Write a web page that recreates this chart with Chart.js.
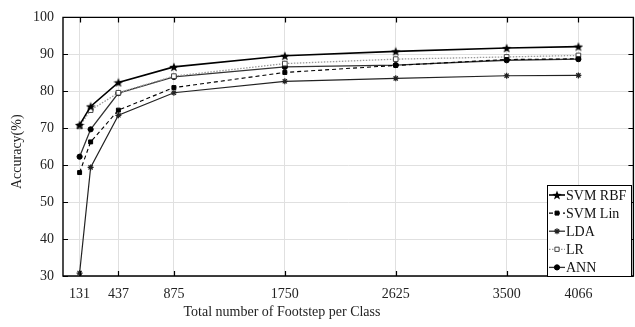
<!DOCTYPE html>
<html>
<head>
<meta charset="utf-8">
<script src="https://cdn.jsdelivr.net/npm/chart.js@4/dist/chart.umd.min.js"></script>
<style>
html,body{margin:0;padding:0;background:#fff;overflow:hidden;width:635px;height:327px;}
#wrap{width:640px;height:327px;}
</style>
</head>
<body>
<div id="wrap"><canvas id="c" width="640" height="327"></canvas></div>
<script>
// ---- data ----
const steps = [131, 218, 437, 875, 1750, 2625, 3500, 4066];
const xTickValues = [131, 437, 875, 1750, 2625, 3500, 4066];
const yTickValues = [30, 40, 50, 60, 70, 80, 90, 100];
const seriesNames = ['SVM RBF', 'SVM Lin', 'LDA', 'LR', 'ANN'];
const svmRbf = [70.9, 75.9, 82.4, 86.6, 89.6, 90.8, 91.7, 92.1];
const svmLin = [58.0, 66.3, 74.9, 81.0, 85.1, 87.0, 88.6, 88.8];
const lda    = [30.8, 59.4, 73.5, 79.6, 82.7, 83.5, 84.2, 84.3];
const lr     = [70.5, 74.9, 79.6, 84.1, 87.5, 88.7, 89.3, 89.7];
const ann    = [62.3, 69.7, 79.5, 83.9, 86.6, 87.1, 88.4, 88.7];
const xTitle = 'Total number of Footstep per Class';
const yTitle = 'Accuracy(%)';

const FONT = '"Liberation Serif", "Times New Roman", serif';

function starImage(size){
  const cv = document.createElement('canvas');
  cv.width = size; cv.height = size;
  const g = cv.getContext('2d');
  const cx = size/2, cy = size/2 + 0.5, R = size/2, r = R*0.42;
  g.beginPath();
  for (let i=0;i<10;i++){
    const a = -Math.PI/2 + i*Math.PI/5;
    const rr = i%2===0 ? R : r;
    const px = cx + rr*Math.cos(a), py = cy + rr*Math.sin(a);
    if(i===0) g.moveTo(px,py); else g.lineTo(px,py);
  }
  g.closePath();
  g.fillStyle = '#000';
  g.fill();
  return cv;
}
const starImg = starImage(10);

function pts(vals){ return steps.map((s,i)=>({x:s, y:vals[i]})); }

const datasets = [
  {label: seriesNames[0], data: pts(svmRbf), borderColor:'#000', borderWidth:1.6,
   pointStyle: starImg, pointRadius:5, legendRadius:5},
  {label: seriesNames[1], data: pts(svmLin), borderColor:'#000', borderWidth:1.1, borderDash:[4,3],
   pointStyle:'rect', pointRadius:2.8, pointBackgroundColor:'#000', pointBorderColor:'#000', pointBorderWidth:1, legendRadius:2.8},
  {label: seriesNames[2], data: pts(lda), borderColor:'#222', borderWidth:1.2,
   pointStyle:'star', pointRadius:3, pointBackgroundColor:'#000', pointBorderColor:'#222', pointBorderWidth:1.2, legendRadius:3},
  {label: seriesNames[3], data: pts(lr), borderColor:'#999', borderWidth:1.3, borderDash:[1.5,1.5],
   pointStyle:'rect', pointRadius:3.3, pointBackgroundColor:'#fff', pointBorderColor:'#444', pointBorderWidth:1, legendRadius:3},
  {label: seriesNames[4], data: pts(ann), borderColor:'#333', borderWidth:1.3,
   pointStyle:'circle', pointRadius:2.6, pointBackgroundColor:'#000', pointBorderColor:'#000', pointBorderWidth:1, legendRadius:2.6}
];
datasets.forEach(d=>{ d.fill=false; d.tension=0; d.pointHoverRadius=d.pointRadius; });

const boxPlugin = {
  id:'boxPlugin',
  afterDatasetsDraw(chart){
    const ctx = chart.ctx, a = chart.chartArea;
    const xs = chart.scales.x, ys = chart.scales.y;
    ctx.save();
    ctx.strokeStyle = '#000';
    ctx.lineWidth = 1.4;
    ctx.beginPath();
    ctx.rect(a.left, a.top, a.right-a.left, a.bottom-a.top);
    ctx.stroke();
    const tl = 5;
    ctx.lineWidth = 1.2;
    ctx.beginPath();
    xTickValues.forEach(v=>{
      const px = Math.round(xs.getPixelForValue(v))+0.5;
      ctx.moveTo(px, a.bottom); ctx.lineTo(px, a.bottom - tl);
      ctx.moveTo(px, a.top); ctx.lineTo(px, a.top + tl);
    });
    yTickValues.forEach(v=>{
      const py = Math.round(ys.getPixelForValue(v))+0.5;
      ctx.moveTo(a.left, py); ctx.lineTo(a.left + tl, py);
      ctx.moveTo(a.right, py); ctx.lineTo(a.right - tl, py);
    });
    ctx.stroke();

    // axis titles
    ctx.fillStyle = '#222';
    ctx.font = '14px ' + FONT;
    ctx.textAlign = 'center';
    ctx.textBaseline = 'middle';
    ctx.fillText(xTitle, 282, 312);
    ctx.save();
    ctx.translate(17, (a.top + a.bottom)/2 + 5);
    ctx.rotate(-Math.PI/2);
    ctx.fillText(yTitle, 0, 0);
    ctx.restore();

    // legend
    const bx = 547, by = 185, bw = 84, bh = a.bottom - by;
    ctx.fillStyle = '#fff';
    ctx.fillRect(bx, by, bw, bh);
    ctx.strokeStyle = '#000';
    ctx.lineWidth = 1;
    ctx.strokeRect(bx+0.5, by+0.5, bw, bh);
    chart.data.datasets.forEach((d,i)=>{
      const y = by + 10 + i*18.1;
      ctx.save();
      ctx.strokeStyle = d.borderColor;
      ctx.lineWidth = d.borderWidth;
      ctx.setLineDash(d.borderDash || []);
      ctx.beginPath();
      ctx.moveTo(bx+2, y); ctx.lineTo(bx+18, y);
      ctx.stroke();
      ctx.setLineDash([]);
      ctx.fillStyle = d.pointBackgroundColor || '#000';
      ctx.strokeStyle = d.pointBorderColor || '#000';
      ctx.lineWidth = d.pointBorderWidth || 1;
      Chart.helpers.drawPoint(ctx, {pointStyle: d.pointStyle, rotation:0, radius: d.legendRadius, borderWidth: d.pointBorderWidth || 1}, bx+10, y);
      ctx.restore();
      ctx.fillStyle = '#111';
      ctx.font = '14px ' + FONT;
      ctx.textAlign = 'left';
      ctx.textBaseline = 'middle';
      ctx.fillText(d.label, bx+19, y+1);
    });
    ctx.restore();
  }
};

new Chart(document.getElementById('c'), {
  type:'line',
  data:{datasets},
  options:{
    responsive:false,
    animation:false,
    devicePixelRatio:1,
    layout:{padding:{top:7, right:2, left:0, bottom:0}},
    plugins:{legend:{display:false}, tooltip:{enabled:false}},
    scales:{
      x:{
        type:'linear', min:0, max:4500,
        afterBuildTicks(s){ s.ticks = xTickValues.map(v=>({value:v})); },
        afterFit(s){ s.height = 51; },
        grid:{color:'#e0e0e0', lineWidth:1, drawTicks:false},
        border:{display:false},
        ticks:{padding:10, color:'#222', font:{family:FONT, size:14}, maxRotation:0, autoSkip:false,
               callback:(v)=>String(v)}
      },
      y:{
        min:30, max:100,
        afterBuildTicks(s){ s.ticks = yTickValues.map(v=>({value:v})); },
        afterFit(s){ s.width = 63; },
        grid:{color:'#e0e0e0', lineWidth:1, drawTicks:false},
        border:{display:false},
        ticks:{padding:9, color:'#222', font:{family:FONT, size:14}, callback:(v)=>String(v)}
      }
    }
  },
  plugins:[boxPlugin]
});
</script>
</body>
</html>
